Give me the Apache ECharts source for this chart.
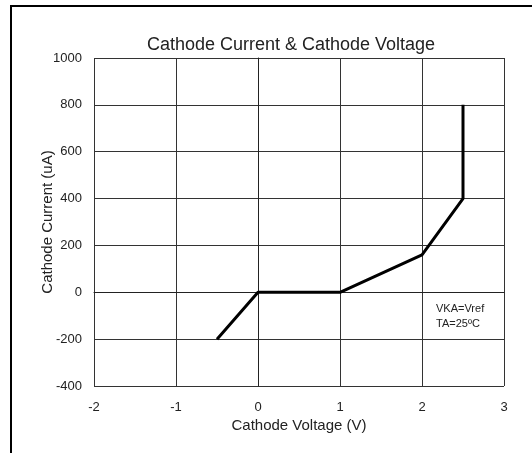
<!DOCTYPE html>
<html>
<head>
<meta charset="utf-8">
<script src="https://cdn.jsdelivr.net/npm/echarts@6/dist/echarts.min.js"></script>
<style>
  html, body { margin: 0; padding: 0; background: #fff; }
  #chart { width: 532px; height: 453px; }
</style>
</head>
<body>
<div id="chart"></div>
<script>
// 曲线数据 (V, uA)
var voltage = [-0.5, 0, 1, 2, 2.5, 2.5];
var current = [-200, 0, 0, 160, 400, 800];
var xTicks = [-2, -1, 0, 1, 2, 3];
var yTicks = [-400, -200, 0, 200, 400, 600, 800, 1000];

(function () {
    var myChart = echarts.init(document.getElementById("chart"));
    var pts = voltage.map(function (v, i) { return [v, current[i]]; });
    var font = "Liberation Sans, Arial, sans-serif";
    var option = {
        animation: false,
        title: {
            text: "Cathode Current & Cathode Voltage",
            left: 286,
            top: 31,
            textAlign: "center",
            textStyle: { fontFamily: font, fontSize: 18, fontWeight: "normal", color: "#222" }
        },
        // 外边框
        graphic: [{
            type: "rect",
            shape: { x: 11, y: 6, width: 540, height: 460 },
            style: { fill: "none", stroke: "#000", lineWidth: 2 }
        }, {
            type: "text",
            left: 436, top: 301,
            style: {
                text: "VKA=Vref\nTA=25ºC",
                fontFamily: font, fontSize: 11, lineHeight: 15,
                fill: "#222"
            }
        }],
        grid: { left: 94, right: 28, top: 58, bottom: 67 },
        xAxis: {
            type: "value",
            min: xTicks[0], max: xTicks[xTicks.length - 1], interval: 1,
            name: "Cathode Voltage (V)",
            nameLocation: "middle",
            nameGap: 32,
            nameMoveOverlap: false,
            nameTextStyle: { fontFamily: font, fontSize: 15, color: "#222" },
            axisLine: { show: true, lineStyle: { color: "#222" } },
            axisTick: { show: false },
            axisLabel: { fontFamily: font, fontSize: 13, color: "#222", margin: 15 },
            splitLine: { show: true, lineStyle: { color: "#333", width: 1 } }
        },
        yAxis: {
            type: "value",
            min: yTicks[0], max: yTicks[yTicks.length - 1], interval: 200,
            name: "Cathode Current (uA)",
            nameLocation: "middle",
            nameGap: 39,
            nameMoveOverlap: false,
            nameTextStyle: { fontFamily: font, fontSize: 15, color: "#222" },
            axisLine: { show: true, lineStyle: { color: "#222" } },
            axisTick: { show: false },
            axisLabel: {
                fontFamily: font, fontSize: 13, color: "#222", margin: 12,
                formatter: function (v) { return String(v); }
            },
            splitLine: { show: true, lineStyle: { color: "#333", width: 1 } }
        },
        series: [{
            type: "line",
            data: pts,
            symbol: "none",
            lineStyle: { color: "#000", width: 3 }
        }]
    };
    myChart.setOption(option);
})();
</script>
</body>
</html>
